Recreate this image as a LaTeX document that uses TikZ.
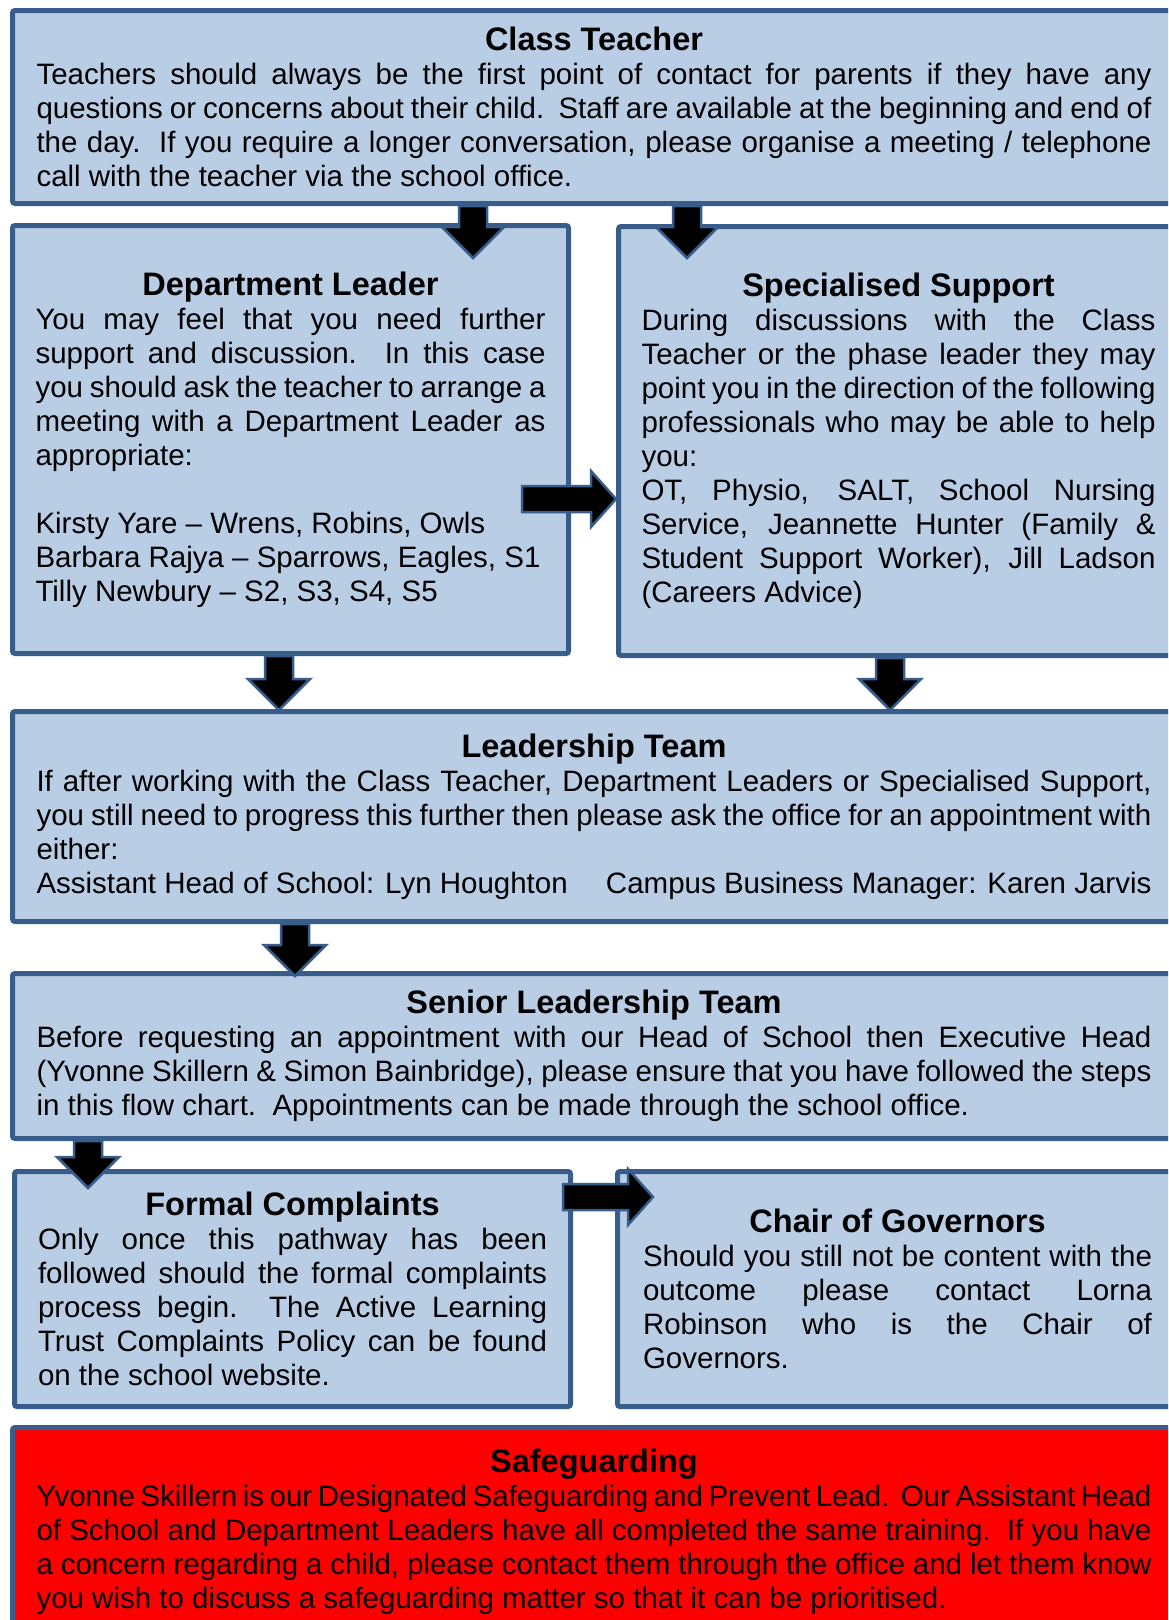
\documentclass[tikz,border=0pt]{standalone}
\usepackage{fontspec}
\setmainfont{Liberation Sans}
\usetikzlibrary{calc}
\definecolor{boxfill}{HTML}{B9CDE5}
\definecolor{boxline}{HTML}{385D8A}
\definecolor{alertfill}{HTML}{FF0000}
\setlength{\parindent}{0pt}
\hyphenpenalty=10000
\exhyphenpenalty=10000
\tolerance=9999
\newcommand{\boxtitle}[1]{{\centering\fontsize{13}{13.6}\selectfont\bfseries #1\par}}

\begin{document}
\begin{tikzpicture}[
x=0.4pt, y=-0.4pt,
box/.style={draw=boxline, line width=2pt, fill=boxfill, rounded corners=1pt, anchor=north west, inner xsep=9.2pt, inner ysep=0pt, align=justify, font=\fontsize{11.8}{13.6}\selectfont},
wide/.style={box, minimum width=465.2pt, text width=446pt},
half/.style={box, minimum width=222pt, text width=204pt},
downarrow/.style={fill=black, draw=boxline, line width=1pt, to path={let \p1=(\tikztostart), \p2=(\tikztotarget) in (\x1-5.6pt,\y1) -- (\x1+5.6pt,\y1) -- (\x1+5.6pt,\y2+12.4pt) -- (\x1+12.4pt,\y2+12.4pt) -- (\x1,\y2) -- (\x1-12.4pt,\y2+12.4pt) -- (\x1-5.6pt,\y2+12.4pt) -- cycle}},
rightarrow/.style={fill=black, draw=boxline, line width=1pt, to path={let \p1=(\tikztostart), \p2=(\tikztotarget) in (\x1,\y1-5.2pt) -- (\x2-10pt,\y1-5.2pt) -- (\x2-10pt,\y1-11.2pt) -- (\x2,\y1) -- (\x2-10pt,\y1+11.2pt) -- (\x2-10pt,\y1+5.2pt) -- (\x1,\y1+5.2pt) -- cycle}}
]
\clip (0,0) rectangle (1168,1620);

% boxes
\node[wide, minimum height=77.2pt] (ct) at (10,8) {\boxtitle{Class Teacher}
Teachers should always be the first point of contact for parents if they have any\linebreak
questions or concerns about their child.\ \ Staff are available at the beginning and end of\linebreak
the day.\ \ If you require a longer conversation, please organise a meeting / telephone\linebreak
call with the teacher via the school office.};

\node[half, minimum height=171.2pt] (dl) at (10,223) {\boxtitle{Department Leader}
You may feel that you need further\linebreak
support and discussion.\ \ In this case\linebreak
you should ask the teacher to arrange a\linebreak
meeting with a Department Leader as\linebreak
appropriate:\par\vskip\baselineskip
Kirsty Yare -- Wrens, Robins, Owls\\
Barbara Rajya -- Sparrows, Eagles, S1\\
Tilly Newbury -- S2, S3, S4, S5};

\node[half, minimum width=224pt, text width=205.6pt, minimum height=171.6pt] (ss) at (616,224) {\boxtitle{Specialised Support}
During discussions with the Class\linebreak
Teacher or the phase leader they may\linebreak
point you in the direction of the following\linebreak
professionals who may be able to help\linebreak
you:\\
OT, Physio, SALT, School Nursing\linebreak
Service, Jeannette Hunter (Family \&\linebreak
Student Support Worker), Jill Ladson\linebreak
(Careers Advice)};

\node[wide, minimum height=84pt] (lt) at (10,709) {\boxtitle{Leadership Team}
If after working with the Class Teacher, Department Leaders or Specialised Support,\linebreak
you still need to progress this further then please ask the office for an appointment with\linebreak
either:\\
Assistant Head of School: Lyn Houghton\hfill Campus Business Manager: Karen Jarvis};

\node[wide, minimum height=66pt] (slt) at (10,971) {\boxtitle{Senior Leadership Team}
Before requesting an appointment with our Head of School then Executive Head\linebreak
(Yvonne Skillern \& Simon Bainbridge), please ensure that you have followed the steps\linebreak
in this flow chart.\ \ Appointments can be made through the school office.};

\node[half, minimum width=222.4pt, text width=203.6pt, minimum height=94pt] (fc) at (12,1169) {\boxtitle{Formal Complaints}
Only once this pathway has been\linebreak
followed should the formal complaints\linebreak
process begin.\ \ The Active Learning\linebreak
Trust Complaints Policy can be found\linebreak
on the school website.};

\node[half, minimum width=224pt, text width=203.6pt, minimum height=94pt] (cg) at (615,1169) {\boxtitle{Chair of Governors}
Should you still not be content with the\linebreak
outcome please contact Lorna\linebreak
Robinson who is the Chair of\linebreak
Governors.};

\node[wide, fill=alertfill, minimum height=83.6pt] (sg) at (10,1425) {\boxtitle{Safeguarding}
Yvonne Skillern is our Designated Safeguarding and Prevent Lead.\ \ Our Assistant Head\linebreak
of School and Department Leaders have all completed the same training.\ \ If you have\linebreak
a concern regarding a child, please contact them through the office and let them know\linebreak
you wish to discuss a safeguarding matter so that it can be prioritised.};

% arrow tips
\coordinate (dltip) at (473,258);
\coordinate (sstip) at (687,258);
\coordinate (ltleft) at (279,710);
\coordinate (ltright) at (890,710);
\coordinate (slttip) at (295,976);
\coordinate (fctip) at (88,1188);
\coordinate (dlside) at (522,499);
\coordinate (ssside) at (616,499);
\coordinate (fcside) at (563,1197);
\coordinate (cgside) at (653,1197);

% arrows
\draw[downarrow] (ct.south -| dltip) to (dltip);
\draw[downarrow] (ct.south -| sstip) to (sstip);
\draw[downarrow] (dl.south -| ltleft) to (ltleft);
\draw[downarrow] (ss.south -| ltright) to (ltright);
\draw[downarrow] (lt.south -| slttip) to (slttip);
\draw[downarrow] (slt.south -| fctip) to (fctip);
\draw[rightarrow] (dlside) to (ssside);
\draw[rightarrow] (fcside) to (cgside);
\end{tikzpicture}
\end{document}
